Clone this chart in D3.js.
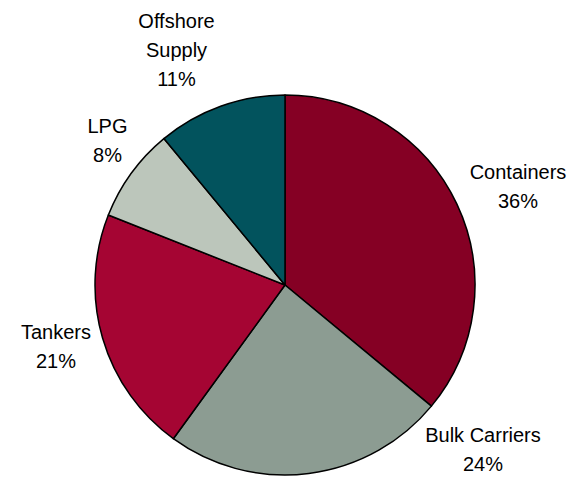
<!DOCTYPE html>
<html>
<head>
<meta charset="utf-8">
<script src="https://cdn.jsdelivr.net/npm/d3@7"></script>
<style>
  html, body { margin: 0; padding: 0; background: #fff; }
  svg { display: block; }
  text { font-family: "Liberation Sans", Arial, sans-serif; font-size: 20px; fill: #000; }
</style>
</head>
<body>
<svg id="chart" width="581" height="482"></svg>
<script>
// Fleet composition by vessel type (share of total, %)
const categories = ["Containers", "Bulk Carriers", "Tankers", "LPG", "Offshore Supply"];
const shares = [36, 24, 21, 8, 11];
const colors = ["#850024", "#8C9C92", "#A50533", "#BCC6BB", "#02535D"];

// Label text lines per slice
const labelLines = [
  ["Containers"],
  ["Bulk Carriers"],
  ["Tankers"],
  ["LPG"],
  ["Offshore", "Supply"]
];
// Label anchor offsets from the pie centre (centre x, first baseline y)
const labelOffsets = [
  [233, -106],
  [198, 157],
  [-229, 54],
  [-177.5, -152],
  [-108.5, -257]
];

const width = 581, height = 482;
const cx = 285, cy = 285, radius = 190;
const lineHeight = 29;

const svg = d3.select("#chart");
const g = svg.append("g").attr("transform", `translate(${cx},${cy})`);

const data = categories.map((c, i) => ({ name: c, value: shares[i], color: colors[i], i }));

const pie = d3.pie().value(d => d.value).sort(null).startAngle(0).endAngle(2 * Math.PI);
const arc = d3.arc().innerRadius(0).outerRadius(radius);

g.selectAll("path.slice")
  .data(pie(data))
  .join("path")
  .attr("class", "slice")
  .attr("d", arc)
  .attr("fill", d => d.data.color)
  .attr("stroke", "#000")
  .attr("stroke-width", 1.5)
  .attr("stroke-linejoin", "round");

const fmt = v => `${v}%`;

const labels = g.selectAll("text.label")
  .data(data)
  .join("text")
  .attr("class", "label")
  .attr("text-anchor", "middle")
  .attr("x", d => labelOffsets[d.i][0])
  .attr("y", d => labelOffsets[d.i][1]);

labels.each(function(d) {
  const t = d3.select(this);
  const lines = labelLines[d.i].concat([fmt(d.value)]);
  lines.forEach((ln, k) => {
    t.append("tspan")
      .attr("x", labelOffsets[d.i][0])
      .attr("dy", k === 0 ? 0 : lineHeight)
      .text(ln);
  });
});
</script>
</body>
</html>
